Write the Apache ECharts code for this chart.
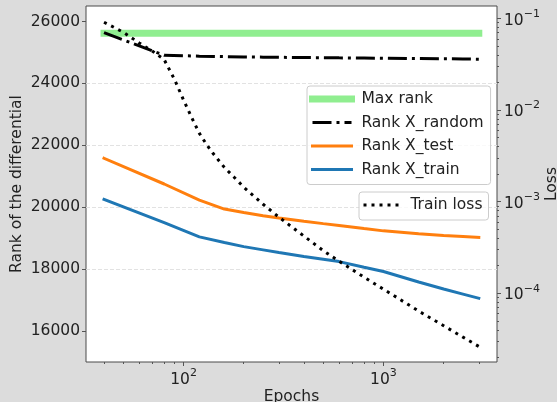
<!DOCTYPE html>
<html><head><meta charset="utf-8">
<script src="https://cdn.jsdelivr.net/npm/echarts@6/dist/echarts.min.js"></script>
<style>html,body{margin:0;padding:0;background:#dcdcdc;} #c{width:557px;height:402px;}</style>
</head><body><div id="c"></div>
<script>
const rankEpochs = [40, 80, 120, 160, 200, 250, 300, 400, 500, 600, 800, 1000, 1500, 2000, 2500, 3000];
const maxRank = 25620;
const rankRandom = [25640, 24910, 24880, 24865, 24855, 24848, 24842, 24835, 24830, 24825, 24818, 24812, 24803, 24795, 24788, 24782];
const rankTest = [21580, 20750, 20230, 19940, 19828, 19726, 19653, 19545, 19470, 19410, 19311, 19236, 19143, 19086, 19051, 19023];
const rankTrain = [20250, 19500, 19042, 18860, 18727, 18622, 18534, 18405, 18316, 18243, 18062, 17922, 17585, 17357, 17193, 17058];
const lossEpochs = [40, 50, 60, 70, 80, 90, 100, 110, 120, 130, 140, 160, 180, 200, 250, 300, 350, 400, 500, 600, 800, 1000, 1500, 2000, 2500, 3000];
const trainLoss = [0.0912, 0.0708, 0.0542, 0.0439, 0.0356, 0.0217, 0.0129, 0.00824, 0.00558, 0.00425, 0.00340, 0.00237, 0.00183, 0.00144, 0.000938, 0.000678, 0.000526, 0.000422, 0.000292, 0.000224, 0.000150, 0.000111, 0.0000640, 0.0000443, 0.0000332, 0.0000263];
const xMajorTicks = [100, 1000];
const xMinorTicks = [40, 50, 60, 70, 80, 90, 200, 300, 400, 500, 600, 700, 800, 900, 2000, 3000];
const yLeftTicks = [16000, 18000, 20000, 22000, 24000, 26000];
const yRightTicks = [1e-4, 1e-3, 1e-2, 1e-1];
const yRightMinor = [2e-5,3e-5,4e-5,5e-5,6e-5,7e-5,8e-5,9e-5, 2e-4,3e-4,4e-4,5e-4,6e-4,7e-4,8e-4,9e-4, 2e-3,3e-3,4e-3,5e-3,6e-3,7e-3,8e-3,9e-3, 2e-2,3e-2,4e-2,5e-2,6e-2,7e-2,8e-2,9e-2];

const FONT = 'DejaVu Sans';
const FS = 15.5;
const TXT = '#222';
const AX = '#555';
const X_MIN = 32.5, X_MAX = 3700;
const YL_MIN = 15000, YL_MAX = 26500;
const YR_MIN = Math.pow(10, -4.75), YR_MAX = Math.pow(10, -0.863);

const supRich = {
  b: {fontFamily: FONT, fontSize: FS, color: TXT, verticalAlign: 'bottom', lineHeight: 20},
  s: {fontFamily: FONT, fontSize: 11, color: TXT, verticalAlign: 'top', lineHeight: 12}
};
function powLabel(v) {
  const e = Math.round(Math.log10(v));
  return '{b|10}{s|' + String(e).replace('-', '\u2212') + '}';
}

const legendCommon = {
  orient: 'vertical', itemHeight: 18, backgroundColor: 'rgba(255,255,255,0.8)', borderColor: '#cccccc',
  borderWidth: 1, borderRadius: 3, selectedMode: false, lineStyle: {width: 3}, itemStyle: {opacity: 0},
  formatter: name => ' ' + name,
  textStyle: {fontFamily: FONT, fontSize: FS, color: TXT, lineHeight: 18}
};

const chart = echarts.init(document.getElementById('c'), null, {renderer: 'canvas'});
chart.setOption({
  animation: false,
  backgroundColor: '#dcdcdc',
  textStyle: {fontFamily: FONT},
  grid: {left: 86, right: 60, top: 6, bottom: 40, show: true, backgroundColor: '#fff', borderColor: '#4a4a4a', borderWidth: 1, outerBoundsMode: 'none', containLabel: false},
  xAxis: [
    {type: 'log', logBase: 10, min: X_MIN, max: X_MAX, position: 'bottom',
     axisLine: {show: false},
     axisTick: {show: true, customValues: xMajorTicks, length: 4, lineStyle: {color: AX}},
     axisLabel: {customValues: xMajorTicks, formatter: powLabel, rich: supRich, margin: 6, color: TXT},
     splitLine: {show: true, showMinLine: false, showMaxLine: false, lineStyle: {color: '#e2e2e2', type: [4, 2], width: 1}},
     minorTick: {show: false},
     name: 'Epochs', nameLocation: 'middle', nameGap: 27, nameMoveOverlap: false,
     nameTextStyle: {fontFamily: FONT, fontSize: FS, color: TXT}},
    {type: 'log', logBase: 10, min: X_MIN, max: X_MAX, position: 'bottom',
     axisLine: {show: false},
     axisTick: {show: true, customValues: xMinorTicks, length: 2, lineStyle: {color: AX}},
     axisLabel: {show: false}, splitLine: {show: false}}
  ],
  yAxis: [
    {type: 'value', min: YL_MIN, max: YL_MAX, splitNumber: 5, position: 'left',
     axisLine: {show: false},
     axisTick: {show: true, customValues: yLeftTicks, length: 4, lineStyle: {color: AX}},
     axisLabel: {customValues: yLeftTicks, formatter: v => String(Math.round(v)), margin: 6, fontFamily: FONT, fontSize: FS, color: TXT},
     splitLine: {show: true, showMinLine: false, showMaxLine: false, lineStyle: {color: '#e2e2e2', type: [4, 2], width: 1}},
     name: 'Rank of the differential', nameLocation: 'middle', nameGap: 61, nameMoveOverlap: false,
     nameTextStyle: {fontFamily: FONT, fontSize: FS, color: TXT}},
    {type: 'log', logBase: 10, min: YR_MIN, max: YR_MAX, position: 'right',
     axisLine: {show: false},
     axisTick: {show: true, customValues: yRightTicks, length: 4, lineStyle: {color: AX}},
     axisLabel: {customValues: yRightTicks, formatter: powLabel, rich: supRich, margin: 7, color: TXT},
     splitLine: {show: false},
     name: 'Loss', nameLocation: 'middle', nameGap: 47, nameMoveOverlap: false,
     nameTextStyle: {fontFamily: FONT, fontSize: FS, color: TXT}},
    {type: 'log', logBase: 10, min: YR_MIN, max: YR_MAX, position: 'right',
     axisLine: {show: false},
     axisTick: {show: true, customValues: yRightMinor, length: 2, lineStyle: {color: AX}},
     axisLabel: {show: false}, splitLine: {show: false}}
  ],
  legend: [
    Object.assign({}, legendCommon, {
      data: [{name: 'Max rank', lineStyle: {width: 7}}, 'Rank X_random', 'Rank X_test', 'Rank X_train'],
      left: 307, top: 86, itemWidth: 39, itemGap: 5.5, padding: [4, 7, 6, 2]}),
    Object.assign({}, legendCommon, {
      data: ['Train loss'],
      left: 359, top: 192, itemWidth: 37, itemGap: 5, padding: [4, 6, 6, 3]})
  ],
  series: [
    {name: 'Max rank', type: 'line', xAxisIndex: 0, yAxisIndex: 0, symbol: 'none',
     data: [[rankEpochs[0], maxRank], [rankEpochs[rankEpochs.length - 1], maxRank]],
     lineStyle: {color: '#90ee90', width: 7, cap: 'square'}, itemStyle: {color: '#90ee90'}},
    {name: 'Rank X_random', type: 'line', xAxisIndex: 0, yAxisIndex: 0, symbol: 'none',
     data: rankEpochs.map((e, i) => [e, rankRandom[i]]),
     lineStyle: {color: '#000', width: 3, type: [19, 5, 3, 5]}, itemStyle: {color: '#000'}},
    {name: 'Rank X_test', type: 'line', xAxisIndex: 0, yAxisIndex: 0, symbol: 'none',
     data: rankEpochs.map((e, i) => [e, rankTest[i]]),
     lineStyle: {color: '#ff7f0e', width: 3, cap: 'square'}, itemStyle: {color: '#ff7f0e'}},
    {name: 'Rank X_train', type: 'line', xAxisIndex: 0, yAxisIndex: 0, symbol: 'none',
     data: rankEpochs.map((e, i) => [e, rankTrain[i]]),
     lineStyle: {color: '#1f77b4', width: 3, cap: 'square'}, itemStyle: {color: '#1f77b4'}},
    {name: 'Train loss', type: 'line', xAxisIndex: 0, yAxisIndex: 1, symbol: 'none',
     data: lossEpochs.map((e, i) => [e, trainLoss[i]]),
     lineStyle: {color: '#000', width: 3, type: [3, 5]}, itemStyle: {color: '#000'}}
  ]
});
</script></body></html>
